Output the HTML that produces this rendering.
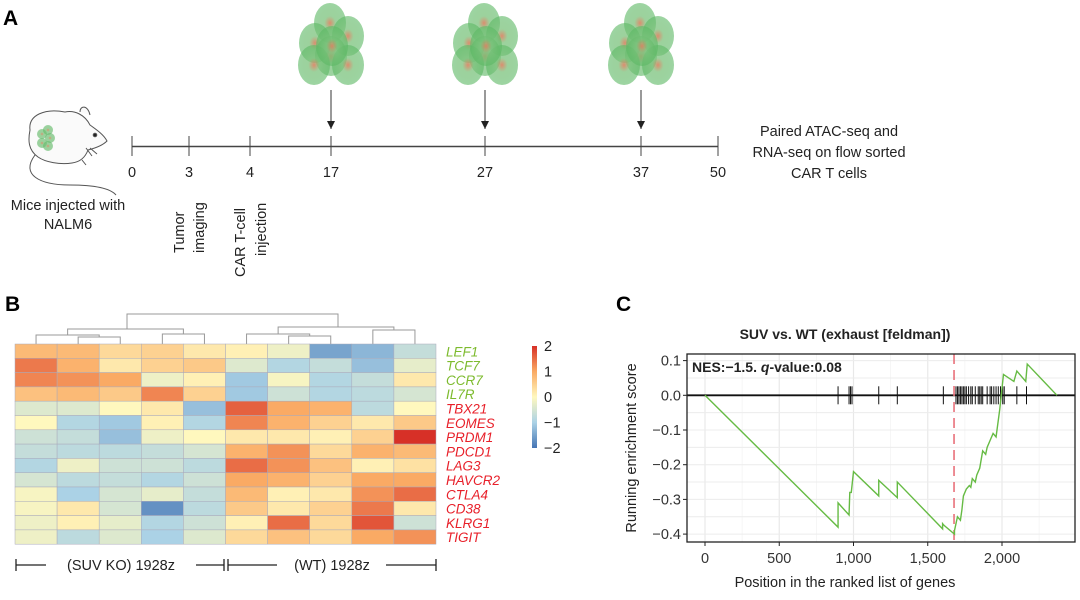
<!DOCTYPE html>
<html><head><meta charset="utf-8"><style>
body{margin:0;background:#fff;width:1080px;height:600px;overflow:hidden;font-family:"Liberation Sans",sans-serif}
svg{display:block}
text{font-family:"Liberation Sans",sans-serif}
</style></head><body>
<svg id="fig" width="1080" height="600" viewBox="0 0 1080 600">
<defs>
<radialGradient id="cell" cx="50%" cy="50%" r="50%">
<stop offset="0%" stop-color="#d9805e" stop-opacity="0.9"/>
<stop offset="35%" stop-color="#7cc27c" stop-opacity="0.75"/>
<stop offset="100%" stop-color="#5cb864" stop-opacity="0.6"/>
</radialGradient>
<marker id="arr" markerWidth="8" markerHeight="8" refX="8" refY="4" orient="auto" markerUnits="userSpaceOnUse"><path d="M0,0 L8,4 L0,8 Z" fill="#222"/></marker>
</defs>
<!-- Panel A -->
<text x="3" y="25" font-size="21" font-weight="bold">A</text>
<g fill="none" stroke="#555" stroke-width="1">
<path d="M30,130 C28,115 45,108 65,112 C75,110 85,115 90,125 C97,130 104,135 107,141 C103,145 96,148 88,150 C85,158 80,162 72,163 C60,165 45,162 38,157 C28,150 28,140 30,130 Z" fill="#fafafa"/>
<path d="M80,112 C80,105 88,105 90,115" fill="#fafafa"/>
<path d="M35,155 C20,175 40,185 70,185 C95,185 110,188 116,195"/>
<circle cx="95" cy="135" r="1.8" fill="#222"/>
<path d="M86,148 l6,8 M90,148 l7,6 M82,160 l4,5"/>
</g>
<g>
<circle cx="42" cy="134" r="5" fill="url(#cell)"/><circle cx="48" cy="130" r="5" fill="url(#cell)"/><circle cx="50" cy="138" r="5" fill="url(#cell)"/><circle cx="42" cy="143" r="5" fill="url(#cell)"/><circle cx="48" cy="146" r="5" fill="url(#cell)"/>
</g>
<text x="68" y="210" font-size="14.5" text-anchor="middle" fill="#222">Mice injected with</text>
<text x="68" y="229" font-size="14.5" text-anchor="middle" fill="#222">NALM6</text>
<g id="timeline"></g>
<text x="725" y="136" font-size="14.5" fill="#222"><tspan x="829" text-anchor="middle">Paired ATAC-seq and</tspan><tspan x="829" dy="21" text-anchor="middle">RNA-seq on flow sorted</tspan><tspan x="829" dy="21" text-anchor="middle">CAR T cells</tspan></text>
<text transform="translate(184,253) rotate(-90)" font-size="14.5" fill="#222">Tumor</text>
<text transform="translate(204,253) rotate(-90)" font-size="14.5" fill="#222">imaging</text>
<text transform="translate(245,277) rotate(-90)" font-size="14.5" fill="#222">CAR T-cell</text>
<text transform="translate(266,256) rotate(-90)" font-size="14.5" fill="#222">injection</text>

<!-- Panel B -->
<text x="5" y="311" font-size="21" font-weight="bold">B</text>
<g id="dendro" stroke="#999" stroke-width="1" fill="none"></g>
<g id="heat"></g>
<g id="colorbar"></g>
<g stroke="#222" stroke-width="1.3">
<line x1="16" y1="565" x2="46" y2="565"/><line x1="16" y1="559" x2="16" y2="571"/>
<line x1="196" y1="565" x2="224" y2="565"/><line x1="224" y1="559" x2="224" y2="571"/>
<line x1="228" y1="559" x2="228" y2="571"/><line x1="228" y1="565" x2="277" y2="565"/>
<line x1="386" y1="565" x2="436" y2="565"/><line x1="436" y1="559" x2="436" y2="571"/>
</g>
<text x="121" y="570" font-size="14.5" text-anchor="middle" fill="#222">(SUV KO) 1928z</text>
<text x="332" y="570" font-size="14.5" text-anchor="middle" fill="#222">(WT) 1928z</text>

<!-- Panel C -->
<text x="616" y="311" font-size="21" font-weight="bold">C</text>
<text x="845" y="339" font-size="14" font-weight="bold" text-anchor="middle" fill="#222">SUV vs. WT (exhaust [feldman])</text>
<g id="gsea"></g>
<text x="845" y="587" font-size="14.5" text-anchor="middle" fill="#222">Position in the ranked list of genes</text>
<text transform="translate(636,448) rotate(-90)" font-size="14.5" text-anchor="middle" fill="#222">Running enrichment score</text>
</svg>
<script>
// ---------- Panel A data ----------
const timeDays=[0,3,4,17,27,37,50];
const tumorDays=[17,27,37];
// ---------- Panel B data ----------
const genes=["LEF1","TCF7","CCR7","IL7R","TBX21","EOMES","PRDM1","PDCD1","LAG3","HAVCR2","CTLA4","CD38","KLRG1","TIGIT"];
const geneGroup=["naive","naive","naive","naive","exh","exh","exh","exh","exh","exh","exh","exh","exh","exh"];
const heatLEF1=[0.8,0.8,0.4,0.5,0.2,0.1,-0.2,-1.5,-1.3,-0.7];
const heatTCF7=[1.4,0.9,0.2,0.5,0.6,-0.4,-0.9,-0.7,-1.2,-0.3];
const heatCCR7=[1.3,1.2,1.0,-0.2,0.1,-1.1,-0.1,-0.9,-0.7,0.2];
const heatIL7R=[0.7,0.8,0.6,1.3,0.5,-1.1,-0.6,-0.9,-0.8,-0.5];
const heatTBX21=[-0.4,-0.4,0.0,0.2,-1.2,1.6,1.0,0.9,-0.8,0.0];
const heatEOMES=[0.0,-0.9,-1.1,0.1,-0.9,1.3,0.9,0.5,0.2,0.6];
const heatPRDM1=[-0.6,-0.7,-1.2,-0.2,0.0,0.2,0.2,0.1,0.5,2.0];
const heatPDCD1=[-0.7,-0.8,-0.8,-0.7,-0.5,0.9,1.2,0.4,0.9,0.8];
const heatLAG3=[-0.9,-0.2,-0.6,-0.6,-0.8,1.5,1.2,0.7,0.1,0.3];
const heatHAVCR2=[-0.5,-0.8,-0.7,-0.9,-0.6,1.0,0.9,0.5,1.0,1.0];
const heatCTLA4=[-0.1,-1.0,-0.5,-0.3,-0.7,0.8,0.1,0.2,1.2,1.5];
const heatCD38=[-0.1,0.2,-0.5,-1.7,-0.8,0.6,0.2,0.5,1.4,0.2];
const heatKLRG1=[-0.2,0.1,-0.3,-0.9,-0.6,0.1,1.5,0.4,1.7,-0.6];
const heatTIGIT=[-0.2,-0.8,-0.4,-1.0,-0.4,0.4,0.7,0.4,1.0,1.2];
const heatRows=[heatLEF1,heatTCF7,heatCCR7,heatIL7R,heatTBX21,heatEOMES,heatPRDM1,heatPDCD1,heatLAG3,heatHAVCR2,heatCTLA4,heatCD38,heatKLRG1,heatTIGIT];
const colorTicks=[2,1,0,-1,-2];
// ---------- Panel C data ----------
const esRank=[0,896,896,970,975,985,1000,1170,1170,1295,1295,1600,1600,1610,1680,1680,1690,1700,1720,1730,1740,1750,1760,1780,1790,1800,1820,1830,1850,1870,1890,1900,1920,1940,1960,1985,2000,2010,2080,2100,2160,2170,2370];
const esScore=[0,-0.38,-0.31,-0.345,-0.28,-0.28,-0.22,-0.29,-0.245,-0.295,-0.25,-0.385,-0.37,-0.375,-0.40,-0.39,-0.37,-0.35,-0.36,-0.33,-0.29,-0.28,-0.27,-0.26,-0.265,-0.24,-0.25,-0.23,-0.21,-0.16,-0.17,-0.15,-0.13,-0.11,-0.12,-0.04,0.02,0.06,0.04,0.07,0.04,0.09,0];
const hitRanks=[896,970,980,990,1170,1295,1605,1690,1700,1710,1720,1730,1740,1750,1760,1775,1790,1800,1820,1840,1850,1860,1870,1900,1920,1930,1945,1960,1975,1990,2005,2015,2100,2165];
const leadingEdge=1677;
const xTicks=[0,500,1000,1500,2000];
const xTickLabels=["0","500","1,000","1,500","2,000"];
const yTicks=[0.1,0,-0.1,-0.2,-0.3,-0.4];
const yTickLabels=["0.1","0.0","\u22120.1","\u22120.2","\u22120.3","\u22120.4"];

const NS="http://www.w3.org/2000/svg";
function mk(tag,attrs,parent){const e=document.createElementNS(NS,tag);for(const k in attrs)e.setAttribute(k,attrs[k]);parent.appendChild(e);return e;}

// Timeline
const tl=document.getElementById('timeline');
const tX=d=>{const px=[132,189,250,331,485,641,718];return px[timeDays.indexOf(d)];};
let ln=mk('line',{x1:132,y1:146.5,x2:718,y2:146.5,stroke:'#444','stroke-width':1.5},tl);


timeDays.forEach(d=>{
  const x=tX(d);
  const t=mk('line',{x1:x,y1:136,x2:x,y2:156,stroke:'#444','stroke-width':1},tl);
  
  
  const l=mk('text',{x:x,y:177,'font-size':14.5,'text-anchor':'middle',fill:'#222'},tl);
  l.textContent=d;
  
  
});
tumorDays.forEach(d=>{
  const x=tX(d);
  const a=mk('line',{x1:x,y1:90,x2:x,y2:129,stroke:'#333','stroke-width':1,'marker-end':'url(#arr)'},tl);
  
  
  const g=mk('g',{},tl);
  
  
  [[-1,25],[17,38],[-16,45],[0,58],[-17,67],[17,67],[1,48]].forEach(o=>{
    mk('ellipse',{cx:x+o[0],cy:o[1]-2,rx:16,ry:20,fill:'url(#cell)'},g);
  });
});

// Heatmap
const hx0=15,hy0=344,cw=42.1,ch=14.3;
const hX=i=>hx0+i*cw, hY=r=>hy0+r*ch;
const stops=[[-2,[69,117,180]],[-1,[171,210,230]],[0,[255,248,190]],[1,[250,170,100]],[2,[215,48,39]]];
function col(v){v=Math.max(-2,Math.min(2,v));for(let i=0;i<4;i++){const a=stops[i],b=stops[i+1];if(v<=b[0]){const t=(v-a[0])/(b[0]-a[0]);return 'rgb('+a[1].map((c,k)=>Math.round(c+(b[1][k]-c)*t)).join(',')+')';}}return 'rgb(215,48,39)';}
const hm=document.getElementById('heat');
heatRows.forEach((row,r)=>{
  row.forEach((v,c)=>{
    const re=mk('rect',{x:hX(c),y:hY(r),width:cw,height:ch,fill:col(v),stroke:'#aab','stroke-width':0.5},hm);
    
    
  });
  const t=mk('text',{x:446,y:hY(r)+ch-2,'font-size':13.5,'font-style':'italic',fill:geneGroup[r]==='naive'?'#7dbb2e':'#e8202a'},hm);
  t.textContent=genes[r];
  
  
});
// Dendrogram
const dg=document.getElementById('dendro');
const cx=i=>hX(i)+cw/2;
function U(xa,ya,xb,yb,yt){mk('path',{d:`M${xa},${ya}V${yt}H${xb}V${yb}`},dg);}
U(cx(1),hy0,cx(2),hy0,337);
U(cx(0),hy0,(cx(1)+cx(2))/2,337,335);
U(cx(3),hy0,cx(4),hy0,334);
U((cx(0)+(cx(1)+cx(2))/2)/2,335,(cx(3)+cx(4))/2,334,329);
U(cx(6),hy0,cx(7),hy0,336);
U(cx(5),hy0,(cx(6)+cx(7))/2,336,334);
U(cx(8),hy0,cx(9),hy0,330);
U((cx(5)+(cx(6)+cx(7))/2)/2,334,(cx(8)+cx(9))/2,330,327);
U(127,329,338,327,314);
// Colorbar
const cb=document.getElementById('colorbar');
const grad=mk('linearGradient',{id:'cbg',x1:0,y1:0,x2:0,y2:1},document.querySelector('defs'));
colorTicks.forEach((v,i)=>mk('stop',{offset:(i/4*100)+'%','stop-color':col(v)},grad));
mk('rect',{x:532,y:346,width:5,height:102,fill:'url(#cbg)'},cb);
colorTicks.forEach(v=>{
  const y=397-v*25.5;
  const t=mk('text',{x:544,y:y+5,'font-size':14.5,fill:'#222'},cb);
  t.textContent=v<0?'\u2212'+(-v):String(v);
  
  
});

// GSEA plot
const gp=document.getElementById('gsea');
const px0=705,pxs=297/2000,py0=395.3,pys=347;
const gX=r=>px0+r*pxs, gY=v=>py0-v*pys;
mk('rect',{x:687,y:354,width:388,height:188,fill:'#fff'},gp);
for(let r=-250;r<=2600;r+=250){const x=gX(r);if(x>687&&x<1075){mk('line',{x1:x,y1:354,x2:x,y2:542,stroke:r%500===0?'#e8e8e8':'#f3f3f3','stroke-width':r%500===0?1.2:0.8},gp);}}
for(let v=-0.45;v<=0.12;v+=0.05){const y=gY(v);if(y>354&&y<542){mk('line',{x1:687,y1:y,x2:1075,y2:y,stroke:'#ececec','stroke-width':1},gp);}}
const zl=mk('line',{x1:687,y1:gY(0),x2:1075,y2:gY(0),stroke:'#111','stroke-width':1.8},gp);


hitRanks.forEach(r=>{
  const t=mk('line',{x1:gX(r),y1:gY(0)-9,x2:gX(r),y2:gY(0)+9,stroke:'#111','stroke-width':1},gp);
  
  
});
const le=mk('line',{x1:gX(leadingEdge),y1:354,x2:gX(leadingEdge),y2:542,stroke:'#e8707a','stroke-width':1.6,'stroke-dasharray':'10,6'},gp);


const es=mk('polyline',{points:esRank.map((r,i)=>gX(r)+','+gY(esScore[i])).join(' '),fill:'none',stroke:'#66bb44','stroke-width':1.4},gp);


mk('rect',{x:687,y:354,width:388,height:188,fill:'none',stroke:'#222','stroke-width':1.3},gp);
const nes=mk('text',{x:692,y:372,'font-size':14,'font-weight':'bold',fill:'#222'},gp);
nes.innerHTML='NES:\u22121.5. <tspan font-style="italic">q</tspan>-value:0.08';


xTicks.forEach((r,i)=>{
  mk('line',{x1:gX(r),y1:542,x2:gX(r),y2:546,stroke:'#222'},gp);
  const t=mk('text',{x:gX(r),y:563,'font-size':14.5,'text-anchor':'middle',fill:'#333'},gp);
  t.textContent=xTickLabels[i];
  
  
});
yTicks.forEach((v,i)=>{
  mk('line',{x1:683,y1:gY(v),x2:687,y2:gY(v),stroke:'#222'},gp);
  const t=mk('text',{x:681,y:gY(v)+5,'font-size':14.5,'text-anchor':'end',fill:'#333'},gp);
  t.textContent=yTickLabels[i];
  
  
});
</script>
</body></html>
